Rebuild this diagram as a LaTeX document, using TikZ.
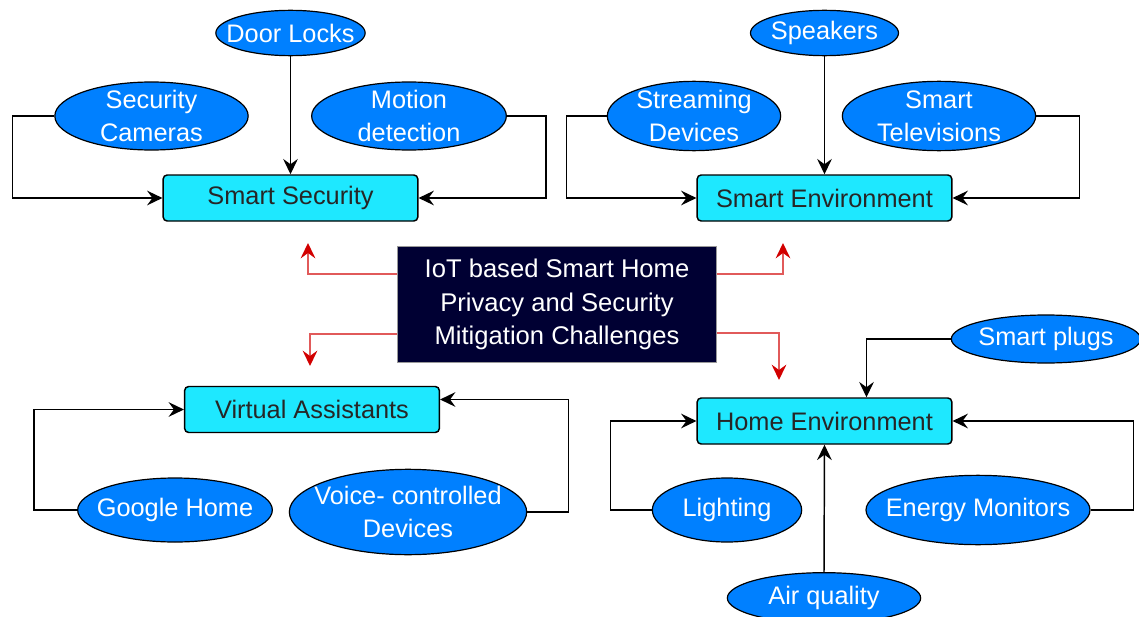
\documentclass[tikz,border=0pt]{standalone}
\usepackage{fontspec}
\setmainfont{Liberation Sans}
\usetikzlibrary{shapes.geometric,arrows.meta,calc}
\definecolor{ellblue}{RGB}{0,128,255}
\definecolor{boxcyan}{RGB}{30,232,255}
\definecolor{navy}{RGB}{0,0,51}
\definecolor{redline}{RGB}{225,90,90}
\definecolor{redtip}{RGB}{210,0,0}
\tikzset{
  ell/.style={ellipse, draw=black, line width=0.9pt, fill=ellblue, text=white, inner sep=-40pt, align=center, font=\fontsize{19}{24.5}\selectfont},
  catbox/.style={rectangle, rounded corners=3pt, draw=black, line width=1.1pt, fill=boxcyan, text=black!85, minimum width=191pt, minimum height=34.5pt, inner sep=0pt, font=\fontsize{19}{22}\selectfont},
  centerbox/.style={rectangle, draw=black!40, line width=0.8pt, fill=navy, text=white, minimum width=239pt, minimum height=87.5pt, inner sep=0pt, align=center, font=\fontsize{19.2}{25}\selectfont},
  arr/.style={draw=black, line width=1.1pt, -{Stealth[length=11.5pt,width=11pt,inset=4pt]}},
  redarr/.style={draw=redline, line width=1.6pt, -{Stealth[length=11.5pt,width=11pt,inset=4pt,color=redtip]}},
}
\begin{document}
\begin{tikzpicture}[x=0.75pt,y=-0.75pt]
\useasboundingbox (0,0) rectangle (1139,617);
\clip (0,0) rectangle (1139,617);
% central
\node[centerbox] (cb) at (557,304.5) {IoT based Smart Home\\Privacy and Security\\Mitigation Challenges};
% category boxes
\node[catbox] (ss) at (290.5,198) {Smart Security};
\node[catbox] (se) at (824.5,198) {Smart Environment};
\node[catbox] (va) at (312,409.5) {Virtual Assistants};
\node[catbox] (he) at (824.5,421) {Home Environment};
% ellipses top-left
\node[ell, minimum width=112pt, minimum height=34pt] (dl) at (290.5,33) {Door Locks};
\node[ell, minimum width=145pt, minimum height=51pt] (sc) at (151.5,116) {Security\\Cameras};
\node[ell, minimum width=146pt, minimum height=51pt] (md) at (409,116) {Motion\\detection};
% top-right
\node[ell, minimum width=111pt, minimum height=34pt] (sp) at (824.5,33) {Speakers};
\node[ell, minimum width=130pt, minimum height=52pt] (sd) at (694,116) {Streaming\\Devices};
\node[ell, minimum width=145pt, minimum height=52pt] (st) at (939,116) {Smart\\Televisions};
% bottom-left
\node[ell, minimum width=146pt, minimum height=48pt] (gh) at (175,510) {Google Home};
\node[ell, minimum width=178pt, minimum height=64pt] (vc) at (408,512) {Voice- controlled\\Devices};
% bottom-right
\node[ell, minimum width=142pt, minimum height=36pt] (pl) at (1046,339) {Smart plugs};
\node[ell, minimum width=112pt, minimum height=48pt] (li) at (727,510) {Lighting};
\node[ell, minimum width=168pt, minimum height=52pt] (em) at (978,510) {Energy Monitors};
\node[ell, minimum width=145pt, minimum height=38pt] (aq) at (824,598) {Air quality};
% connectors: Smart Security
\draw[arr] (dl.south) -- (ss.north);
\draw[arr] (sc.west) -- ++(-42,0) |- (ss.west);
\draw[arr] (md.east) -- ++(39,0) |- (ss.east);
% Smart Environment
\draw[arr] (sp.south) -- (se.north);
\draw[arr] (sd.west) -- ++(-40,0) |- (se.west);
\draw[arr] (st.east) -- ++(43,0) |- (se.east);
% Virtual Assistants
\draw[arr] (gh.west) -- ++(-43,0) |- (va.west);
\draw[arr] (vc.east) -- ++(41,0) |- ($(va.east)+(0,-10)$);
% Home Environment
\draw[arr] (pl.west) -| ($(he.north)+(42,0)$);
\draw[arr] (li.west) -- ++(-41,0) |- (he.west);
\draw[arr] (em.east) -- ++(43,0) |- (he.east);
\draw[arr] (aq.north) -- (he.south);
% red arrows
\coordinate (r1) at (308,243);
\coordinate (r2) at (310,366);
\coordinate (r3) at (783,243);
\coordinate (r4) at (779,380);
\draw[redarr] ($(cb.west)+(0,-30.5)$) -| (r1);
\draw[redarr] ($(cb.west)+(0,29.5)$) -| (r2);
\draw[redarr] ($(cb.east)+(0,-30.5)$) -| (r3);
\draw[redarr] ($(cb.east)+(0,28.5)$) -| (r4);
\end{tikzpicture}
\end{document}
